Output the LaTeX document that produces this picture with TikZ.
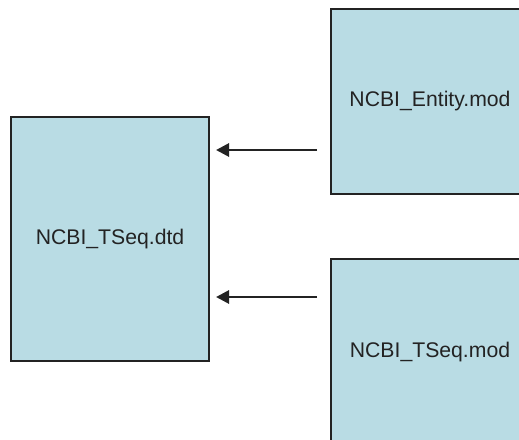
\documentclass[tikz,border=0pt]{standalone}
\usepackage{fontspec}
\setmainfont{Liberation Sans}
\usetikzlibrary{arrows.meta}
\definecolor{boxfill}{RGB}{185,220,228}
\definecolor{boxline}{RGB}{35,35,35}
\begin{document}
\begin{tikzpicture}[x=1pt,y=-1pt,
  modbox/.style={draw=boxline,line width=1.8pt,fill=boxfill,inner sep=0pt,font=\fontsize{21.2}{24}\selectfont,text=boxline},
  link/.style={line width=2.8pt,draw=boxline,-{Triangle[length=13pt,width=13pt]}}]
\useasboundingbox (0,0) rectangle (519,439);
\node[modbox,minimum width=198pt,minimum height=244pt] (dtd) at (110,239) {NCBI\_TSeq.dtd};
\node[modbox,minimum width=198pt,minimum height=185pt] (ent) at (430,101.5) {NCBI\_Entity.mod};
\node[modbox,minimum width=198pt,minimum height=186pt] (tseq) at (430,352) {NCBI\_TSeq.mod};
\coordinate (a1s) at (317,150);
\coordinate (a1e) at (216,150);
\coordinate (a2s) at (317,297);
\coordinate (a2e) at (216,297);
\draw[link] (a1s) -- (a1e);
\draw[link] (a2s) -- (a2e);
\end{tikzpicture}
\end{document}
